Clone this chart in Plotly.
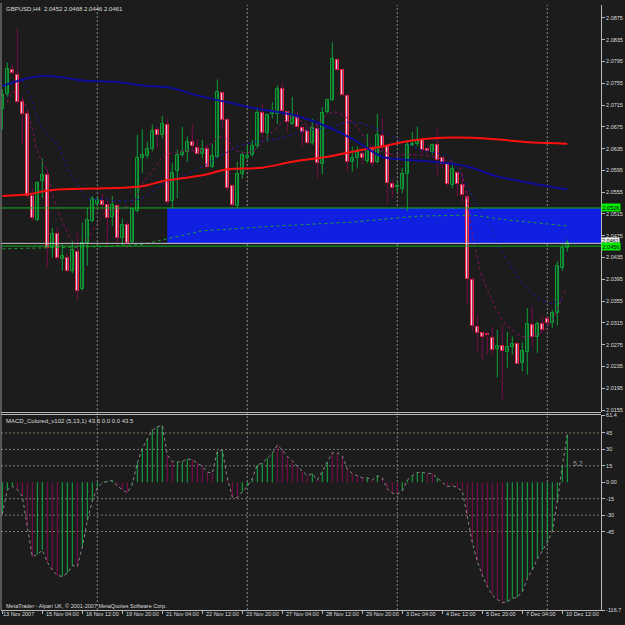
import plotly.graph_objects as go

BG = "#1c1c1c"
W, H = 625, 625

# ---------------- data ----------------
opens = [2.0708,2.0735,2.0780,2.0771,2.0720,2.0699,2.0548,2.0504,2.0575,2.0586,
         2.0453,2.0479,2.0433,2.0435,2.0411,2.0446,2.0377,2.0462,2.0502,2.0533,
         2.0539,2.0531,2.0510,2.0530,2.0470,2.0495,2.0464,2.0520,2.0617,2.0622,
         2.0635,2.0670,2.0660,2.0679,2.0539,2.0593,2.0624,2.0628,2.0648,2.0637,
         2.0626,2.0635,2.0602,2.0620,2.0737,2.0688,2.0566,2.0530,2.0588,2.0617,
         2.0624,2.0639,2.0700,2.0664,2.0699,2.0699,2.0744,2.0702,2.0680,2.0693,
         2.0673,2.0668,2.0646,2.0671,2.0606,2.0702,2.0724,2.0797,2.0779,2.0731,
         2.0610,2.0617,2.0626,2.0613,2.0635,2.0610,2.0659,2.0639,2.0570,2.0564,
         2.0560,2.0588,2.0642,2.0644,2.0651,2.0635,2.0628,2.0642,2.0617,2.0606,
         2.0568,2.0590,2.0568,2.0546,2.0393,2.0308,2.0297,2.0295,2.0288,2.0268,
         2.0273,2.0262,2.0271,2.0277,2.0242,2.0262,2.0311,2.0290,2.0313,2.0322,
         2.0315,2.0333,2.0415,2.0452]
highs = [2.0744,2.0793,2.0790,2.0855,2.0730,2.0702,2.0562,2.0575,2.0617,2.0597,
         2.0490,2.0490,2.0460,2.0442,2.0466,2.0480,2.0499,2.0526,2.0548,2.0544,
         2.0553,2.0542,2.0548,2.0533,2.0506,2.0502,2.0526,2.0660,2.0670,2.0648,
         2.0679,2.0675,2.0695,2.0690,2.0608,2.0633,2.0675,2.0657,2.0680,2.0653,
         2.0651,2.0642,2.0644,2.0762,2.0739,2.0690,2.0568,2.0611,2.0630,2.0642,
         2.0651,2.0711,2.0717,2.0699,2.0720,2.0751,2.0757,2.0704,2.0730,2.0702,
         2.0680,2.0675,2.0690,2.0684,2.0711,2.0726,2.0830,2.0799,2.0780,2.0735,
         2.0639,2.0639,2.0633,2.0662,2.0639,2.0699,2.0691,2.0642,2.0579,2.0575,
         2.0599,2.0651,2.0666,2.0675,2.0653,2.0639,2.0644,2.0671,2.0620,2.0611,
         2.0608,2.0593,2.0588,2.0557,2.0399,2.0330,2.0299,2.0299,2.0308,2.0302,
         2.0311,2.0299,2.0290,2.0280,2.0279,2.0342,2.0346,2.0317,2.0328,2.0326,
         2.0339,2.0428,2.0462,2.0468]
lows = [2.0670,2.0730,2.0770,2.0718,2.0642,2.0544,2.0502,2.0502,2.0544,2.0417,
        2.0435,2.0430,2.0411,2.0408,2.0406,2.0357,2.0375,2.0420,2.0500,2.0530,
        2.0520,2.0453,2.0493,2.0457,2.0457,2.0453,2.0460,2.0518,2.0590,2.0617,
        2.0630,2.0635,2.0653,2.0533,2.0526,2.0544,2.0620,2.0611,2.0630,2.0624,
        2.0617,2.0599,2.0599,2.0617,2.0671,2.0557,2.0526,2.0526,2.0580,2.0615,
        2.0620,2.0635,2.0653,2.0648,2.0690,2.0680,2.0699,2.0666,2.0679,2.0671,
        2.0639,2.0642,2.0642,2.0580,2.0588,2.0700,2.0722,2.0777,2.0730,2.0593,
        2.0593,2.0599,2.0606,2.0608,2.0602,2.0608,2.0630,2.0533,2.0544,2.0555,
        2.0553,2.0520,2.0639,2.0639,2.0626,2.0626,2.0624,2.0584,2.0599,2.0566,
        2.0562,2.0548,2.0533,2.0348,2.0299,2.0260,2.0248,2.0257,2.0257,2.0215,
        2.0175,2.0233,2.0257,2.0239,2.0226,2.0220,2.0271,2.0260,2.0297,2.0311,
        2.0306,2.0310,2.0411,2.0446]
closes = [2.0733,2.0782,2.0773,2.0720,2.0699,2.0548,2.0508,2.0571,2.0586,2.0453,
          2.0479,2.0435,2.0437,2.0411,2.0448,2.0373,2.0462,2.0504,2.0542,2.0540,
          2.0531,2.0508,2.0531,2.0470,2.0495,2.0462,2.0524,2.0617,2.0624,2.0635,
          2.0668,2.0660,2.0680,2.0537,2.0590,2.0624,2.0628,2.0648,2.0639,2.0626,
          2.0635,2.0602,2.0622,2.0739,2.0688,2.0562,2.0531,2.0588,2.0624,2.0622,
          2.0639,2.0700,2.0664,2.0697,2.0702,2.0744,2.0704,2.0684,2.0695,2.0675,
          2.0666,2.0646,2.0673,2.0608,2.0700,2.0724,2.0799,2.0780,2.0733,2.0610,
          2.0617,2.0630,2.0617,2.0635,2.0608,2.0660,2.0639,2.0571,2.0562,2.0566,
          2.0588,2.0642,2.0644,2.0651,2.0633,2.0630,2.0642,2.0615,2.0606,2.0570,
          2.0597,2.0570,2.0550,2.0395,2.0310,2.0297,2.0290,2.0292,2.0266,2.0273,
          2.0264,2.0271,2.0277,2.0240,2.0264,2.0313,2.0290,2.0313,2.0302,2.0315,
          2.0333,2.0419,2.0453,2.0461]

# moving average lines (sampled vertices: bar index, price)
red_ma_idx = [0,5,10,20,28,32,40,45,52,58,65,72,76,82,88,94,100,106,113]
red_ma_val = [2.0548,2.0551,2.0559,2.0562,2.0566,2.0575,2.0586,2.0597,2.0600,2.0611,
              2.0620,2.0633,2.0639,2.0650,2.0655,2.0655,2.0651,2.0646,2.0644]
blue_ma_idx = [0,6,10,16,23,28,34,38,45,51,58,65,70,76,80,86,93,99,106,113]
blue_ma_val = [2.0750,2.0766,2.0768,2.0760,2.0757,2.0751,2.0746,2.0735,2.0720,2.0708,
               2.0697,2.0675,2.0653,2.0620,2.0615,2.0611,2.0602,2.0584,2.0571,2.0560]
blue_dot_idx = [4,6,8,11,13,15,17,20,24,28,32,35,40,48,55,60,66,70,76,83,89,91,94,95,97,98,99,101,104,107,110,112]
blue_dot_val = [2.0762,2.0720,2.0671,2.0642,2.0599,2.0570,2.0544,2.0542,2.0539,2.0544,
                2.0570,2.0580,2.0602,2.0642,2.0653,2.0666,2.0675,2.0684,2.0666,2.0635,
                2.0620,2.0597,2.0548,2.0530,2.0506,2.0484,2.0460,2.0430,2.0388,2.0362,
                2.0351,2.0360]
purple_dot_idx = [1,2,4,6,7,9,10,12,14,16,19,21,24,26,28,31,32,36,40,44,47,50,54,58,62,66,70,74,78,82,86,88,91,92,93,94,95,96,98,100,102,104,106,108,110,112,113]
purple_dot_val = [2.0720,2.0739,2.0726,2.0671,2.0630,2.0593,2.0551,2.0502,2.0466,2.0460,
                  2.0497,2.0520,2.0526,2.0533,2.0570,2.0606,2.0620,2.0630,2.0633,2.0657,
                  2.0630,2.0630,2.0666,2.0693,2.0675,2.0702,2.0684,2.0639,2.0624,2.0624,
                  2.0620,2.0615,2.0606,2.0584,2.0539,2.0479,2.0435,2.0399,2.0357,2.0320,
                  2.0302,2.0290,2.0290,2.0299,2.0320,2.0362,2.0379]
green_dot_idx = [0,20,28,33,40,55,70,83,94,101,113]
green_dot_val = [2.0451,2.0455,2.0459,2.0470,2.0484,2.0493,2.0500,2.0511,2.0513,2.0504,2.0493]

# MACD (5,13,1) histogram values and colours (g = rising, m = falling)
macd_vals = [-29,-7,-3.6,-6.6,-12.7,-41,-68,-66,-62,-73,
             -80,-85,-86,-83,-76,-77,-59,-35,-17,-5,
             -0.6,1,1.5,-3.6,-6.6,-9.6,-2,17.5,31,40,
             47.6,50.6,52,25,19,18.4,19,21.4,20.5,17.5,
             14.5,9.3,8.4,28,29.5,4,-13.5,-14,-8.7,-3.6,
             3.3,16,17.5,22,26.5,34,29.5,23.5,19.6,14.5,
             10,6,8,2,10,18,27,27,24,12,
             8,6,4,4,2,6,4,-6,-10,-11,
             -8,2,6,9,9,8,8,4,0,-4,
             -3,-5,-8,-30,-55,-72,-85,-95,-103,-107,
             -110,-109,-106,-105,-100,-88,-80,-70,-62,-55,
             -45,-18,15,43.5]
macd_col = list("gggmmmmggmmmgggmgggg" "gggmmmgggggggmmgggmm" "mmmggmmmgggggggmmmmm"
                "mmgmggmmmmmmmgmgmmmm" "gggggmmgmmmmmmmmmmmm" "mggggggggggggg")

# axes text
price_ticks = [2.0155,2.0195,2.0235,2.0275,2.0315,2.0355,2.0395,2.0435,2.0475,2.0515,
               2.0555,2.0595,2.0635,2.0675,2.0715,2.0755,2.0795,2.0835,2.0875]
macd_ticks = [61.4,45,30,15,0,-15,-30,-45,-116.7]
macd_tick_text = ["61.4","45","30","15","0.00","-15","-30","-45","-116.7"]
macd_levels = [45,30,15,-15,-30,-45]
time_idx = [0,8,16,24,32,40,48,56,64,72,80,88,96,104,112]
time_labels = ["13 Nov 2007","15 Nov 04:00","16 Nov 12:00","19 Nov 20:00","21 Nov 04:00",
               "22 Nov 12:00","23 Nov 20:00","27 Nov 04:00","28 Nov 12:00","29 Nov 20:00",
               "3 Dec 04:00","4 Dec 12:00","5 Dec 20:00","7 Dec 04:00","10 Dec 12:00"]
grid_idx = [19,49,79,109]
zone_start = 33
zone_top, zone_bottom = 2.0526, 2.0460
level_hi, level_lo, bid = 2.0526, 2.0456, 2.0461

# ---------------- layout constants ----------------
XL, XR = 1 / W, 601 / W
Y_MAIN = [1 - 413 / H, 1 - 2 / H]
Y_MACD = [1 - 613 / H, 1 - 416 / H]
X_RANGE = [-0.26, 119.74]
FONT = "Liberation Sans"
GREEN = "#0e9e38"
RED_OUT = "#ff2040"
MAROON = "#7a0a4a"
AXC = "#b8b8b8"
TXT = "#dcdcdc"

n = len(opens)
bull = [i for i in range(n) if closes[i] >= opens[i]]
bear = [i for i in range(n) if closes[i] < opens[i]]

def wick_xy(idx):
    xs, ys = [], []
    for i in idx:
        xs += [i, i, None]
        ys += [lows[i], highs[i], None]
    return xs, ys

fig = go.Figure()

# wicks
for idx, col in ((bull, GREEN), (bear, MAROON)):
    xs, ys = wick_xy(idx)
    fig.add_trace(go.Scatter(x=xs, y=ys, mode="lines", line=dict(color=col, width=1),
                             xaxis="x", yaxis="y", hoverinfo="skip"))

# bodies
for idx, fill, out in ((bull, BG, GREEN), (bear, "#ffffff", RED_OUT)):
    fig.add_trace(go.Bar(
        x=idx,
        y=[max(abs(closes[i] - opens[i]), 0.00005) for i in idx],
        base=[min(opens[i], closes[i]) for i in idx],
        width=0.56, marker=dict(color=fill, line=dict(color=out, width=1)),
        xaxis="x", yaxis="y", hoverinfo="skip"))

# moving averages
fig.add_trace(go.Scatter(x=green_dot_idx, y=green_dot_val, mode="lines",
                         line=dict(color="#1e9a3c", width=1, dash="dot"), xaxis="x", yaxis="y"))
fig.add_trace(go.Scatter(x=blue_dot_idx, y=blue_dot_val, mode="lines", line_shape="spline",
                         line=dict(color="#1a1aa0", width=1, dash="dot"), xaxis="x", yaxis="y"))
fig.add_trace(go.Scatter(x=purple_dot_idx, y=purple_dot_val, mode="lines", line_shape="spline",
                         line=dict(color="#8a1060", width=1, dash="dot"), xaxis="x", yaxis="y"))
fig.add_trace(go.Scatter(x=red_ma_idx, y=red_ma_val, mode="lines", line_shape="spline",
                         line=dict(color="#ff1010", width=2), xaxis="x", yaxis="y"))
fig.add_trace(go.Scatter(x=blue_ma_idx, y=blue_ma_val, mode="lines", line_shape="spline",
                         line=dict(color="#0c0c98", width=2), xaxis="x", yaxis="y"))

# MACD histogram
for key, col in (("g", "#12b040"), ("m", "#860a52")):
    xs, ys = [], []
    for i, (v, c) in enumerate(zip(macd_vals, macd_col)):
        if c == key:
            xs += [i, i, None]
            ys += [0, v, None]
    fig.add_trace(go.Scatter(x=xs, y=ys, mode="lines", line=dict(color=col, width=1),
                             xaxis="x2", yaxis="y2", hoverinfo="skip"))
fig.add_trace(go.Scatter(x=list(range(len(macd_vals))), y=macd_vals, mode="lines",
                         line=dict(color="#8a8a8a", width=1, dash="dot"),
                         xaxis="x2", yaxis="y2", hoverinfo="skip"))

shapes = []
# supply/demand zone
shapes.append(dict(type="rect", xref="x", yref="y", x0=zone_start, x1=X_RANGE[1],
                   y0=zone_bottom, y1=zone_top, fillcolor="#1020e0",
                   line=dict(width=0), layer="below"))
# vertical grid
for g in grid_idx:
    shapes.append(dict(type="line", xref="x", yref="paper", x0=g, x1=g,
                       y0=Y_MACD[0], y1=Y_MAIN[1], line=dict(color="#8a8a8a", width=1, dash="2px,2px"),
                       layer="below"))
# MACD levels
for lv in macd_levels:
    shapes.append(dict(type="line", xref="x2 domain", yref="y2", x0=0, x1=1, y0=lv, y1=lv,
                       line=dict(color="#8a7a60" if abs(lv) == 45 else "#7a7a7a", width=1,
                                 dash="2px,2px"), layer="below"))
# horizontal levels
shapes.append(dict(type="line", xref="x domain", yref="y", x0=0, x1=1, y0=bid, y1=bid,
                   line=dict(color="#c8c8c8", width=1)))
for lv in (level_hi, level_lo):
    shapes.append(dict(type="line", xref="x domain", yref="y", x0=0, x1=1, y0=lv, y1=lv,
                       line=dict(color="#10b020", width=1)))
# frame / pane separators
for yy in (413.5 / H, 415.5 / H):
    shapes.append(dict(type="line", xref="paper", yref="paper", x0=XL, x1=XR,
                       y0=1 - yy, y1=1 - yy, line=dict(color=AXC, width=1)))
shapes.append(dict(type="line", xref="paper", yref="paper", x0=XL, x1=XL,
                   y0=Y_MACD[0], y1=1, line=dict(color="#909090", width=1)))

annotations = []
annotations.append(dict(text="GBPUSD,H4  2.0452 2.0468 2.0446 2.0461", xref="paper", yref="paper",
                        x=4 / W, y=1 - 6 / H, xanchor="left", yanchor="middle", showarrow=False,
                        font=dict(family=FONT, size=6, color=TXT)))
annotations.append(dict(text="MACD_Colored_v102 (5,13,1) 43.5 0.0 0.0 43.5", xref="paper", yref="paper",
                        x=4 / W, y=1 - 422 / H, xanchor="left", yanchor="middle", showarrow=False,
                        font=dict(family=FONT, size=6, color=TXT)))
annotations.append(dict(text="MetaTrader - Alpari UK, \u00a9 2001-2007 MetaQuotes Software Corp.",
                        xref="paper", yref="paper", x=4 / W, y=1 - 609 / H, xanchor="left",
                        yanchor="middle", showarrow=False, font=dict(family=FONT, size=5.5, color=TXT)))
annotations.append(dict(text="5.2", xref="x2", yref="y2", x=113, y=17, xanchor="left", yanchor="middle",
                        xshift=4, showarrow=False, font=dict(family=FONT, size=7, color="#9a9a9a")))
for i, lab in zip(time_idx, time_labels):
    annotations.append(dict(text=lab, xref="x2", yref="paper", x=i, y=1 - 617 / H,
                            xanchor="left", yanchor="middle", xshift=2 if i else -1, showarrow=False,
                            font=dict(family=FONT, size=5.5, color=TXT)))
# price tags on the right axis
annotations.append(dict(text="2.0461", xref="paper", yref="y", x=XR, y=bid, xanchor="left",
                        yanchor="middle", yshift=2, showarrow=False, bgcolor="#f0f0f0", borderpad=0,
                        font=dict(family=FONT, size=5.5, color="#000000")))
for lv in (level_hi, level_lo):
    annotations.append(dict(text=f"{lv:.4f}", xref="paper", yref="y", x=XR, y=lv, xanchor="left",
                            yanchor="middle", showarrow=False, bgcolor="#00f000", borderpad=0.5,
                            font=dict(family=FONT, size=5.5, color="#000000")))

fig.update_layout(
    width=W, height=H, margin=dict(l=0, r=0, t=0, b=0),
    paper_bgcolor=BG, plot_bgcolor=BG, showlegend=False, barmode="overlay",
    hovermode=False, bargap=0,
    shapes=shapes, annotations=annotations,
    xaxis=dict(domain=[XL, XR], range=X_RANGE, anchor="y", showgrid=False, zeroline=False,
               showticklabels=False, ticks="", showline=False, fixedrange=True),
    yaxis=dict(domain=Y_MAIN, range=[2.01514, 2.08986], anchor="x", side="right",
               tickvals=price_ticks, ticktext=[f"{v:.4f}" for v in price_ticks],
               ticks="outside", ticklen=3, tickcolor=AXC, showline=True, linecolor=AXC,
               showgrid=False, zeroline=False, tickfont=dict(family=FONT, size=5.5, color=TXT)),
    xaxis2=dict(domain=[XL, XR], range=X_RANGE, anchor="y2", showgrid=False, zeroline=False,
                showticklabels=False, tickvals=time_idx, ticks="outside", ticklen=3,
                tickcolor=AXC, showline=True, linecolor=AXC, fixedrange=True),
    yaxis2=dict(domain=Y_MACD, range=[-116.7, 61.4], anchor="x2", side="right",
                tickvals=macd_ticks, ticktext=macd_tick_text, ticks="outside", ticklen=3,
                tickcolor=AXC, showline=True, linecolor=AXC, showgrid=False, zeroline=False,
                tickfont=dict(family=FONT, size=5.5, color=TXT)),
)

fig.write_html("out.html")
